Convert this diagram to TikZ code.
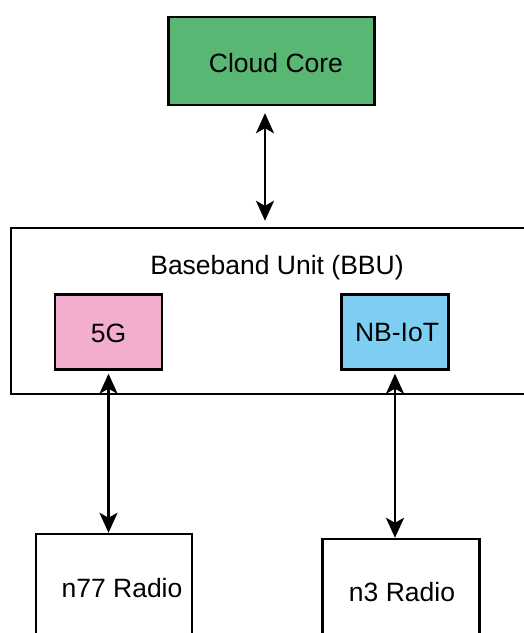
\documentclass[tikz,border=0pt]{standalone}
\usepackage{fontspec}
\setmainfont{Liberation Sans}
\usetikzlibrary{arrows.meta}
\definecolor{coregreen}{HTML}{59B774}
\definecolor{nrpink}{HTML}{F3AECF}
\definecolor{iotblue}{HTML}{7ECEF4}
\tikzset{
  box/.style={draw=black, line width=2.4pt, rectangle, inner sep=0pt},
  lbl/.style={inner sep=0pt, font=\fontsize{26.5}{31}\selectfont},
  link/.style={line width=2.7pt, {Stealth[length=20pt,width=18pt,inset=5pt]}-{Stealth[length=20pt,width=18pt,inset=5pt]}}
}
\begin{document}
\begin{tikzpicture}[x=1pt,y=-1pt]
\useasboundingbox (0,0) rectangle (524,633);
\clip (0,0) rectangle (524,633);

% cloud core
\node[box, fill=coregreen, minimum width=206, minimum height=88] (cloud) at (271.5,61) {};
\node[lbl] (cloudtxt) at (276,63) {Cloud Core};

% baseband unit with its two modems
\node[box, fill=white, minimum width=540, minimum height=166] (bbu) at (281,311) {};
\node[lbl] (bbutxt) at (277,268) {Baseband Unit (BBU)};
\node[box, fill=nrpink, minimum width=107, minimum height=75] (g5) at (108.5,332) {};
\node[lbl] (g5txt) at (108.5,333) {5G};
\node[box, fill=iotblue, minimum width=107, minimum height=75] (nb) at (395,332) {};
\node[lbl] (nbtxt) at (397,333) {NB-IoT};

% radio heads
\node[box, fill=white, minimum width=156, minimum height=130] (n77) at (114,599) {};
\node[lbl] (n77txt) at (122,588) {n77 Radio};
\node[box, fill=white, minimum width=157, minimum height=130] (n3) at (401,604) {};
\node[lbl] (n3txt) at (402,592) {n3 Radio};

% links
\coordinate (ax) at (265,0);
\draw[link, shorten <=7pt, shorten >=6pt] (ax |- cloud.south) -- (ax |- bbu.north);
\draw[link, shorten <=3pt] (g5.south) -- (g5.south |- n77.north);
\draw[link, shorten <=3pt] (nb.south) -- (nb.south |- n3.north);
\end{tikzpicture}
\end{document}
